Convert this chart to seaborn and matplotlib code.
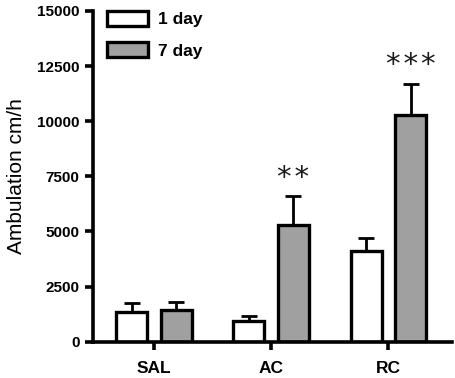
import pandas as pd
import matplotlib
matplotlib.use("Agg")
import matplotlib.pyplot as plt
import matplotlib.patches as mpatches
import seaborn as sns

# Chart data
groups = ["SAL", "AC", "RC"]
days = ["1 day", "7 day"]
means_1day = [1350, 950, 4100]
means_7day = [1450, 5300, 10300]
sem_1day = [400, 200, 600]
sem_7day = [350, 1300, 1400]
sig_labels_7day = ["", "*\u200a*", "*\u200a*\u200a*"]

df = pd.DataFrame({
    "group": groups * 2,
    "day": [days[0]] * 3 + [days[1]] * 3,
    "mean": means_1day + means_7day,
    "sem": sem_1day + sem_7day,
})

sns.set_style("ticks")
plt.rcParams["font.family"] = ["Liberation Sans", "DejaVu Sans"]
plt.rcParams["text.color"] = "black"
plt.rcParams["axes.labelcolor"] = "black"
plt.rcParams["xtick.color"] = "black"
plt.rcParams["ytick.color"] = "black"
plt.rcParams["axes.edgecolor"] = "black"

fig = plt.figure(figsize=(4.55, 3.78), dpi=100)
ax = fig.add_axes([0.204, 0.096, 0.789, 0.875])

colors = ["white", "#a0a0a0"]
sns.barplot(data=df, x="group", y="mean", hue="day", order=groups, hue_order=days,
            palette=colors, edgecolor="black", linewidth=2.4, width=0.76, gap=0.3,
            errorbar=None, legend=False, ax=ax)

# upper-only error bars, placed on the drawn bars
bars = [p for p in ax.patches if p.get_height() > 0]
for bar, m, s in zip(bars, df["mean"], df["sem"]):
    cx = bar.get_x() + bar.get_width() / 2
    ax.errorbar(cx, m, yerr=[[0], [s]], fmt="none", ecolor="black",
                elinewidth=2.0, capsize=5.5, capthick=2.0, zorder=1)

# significance stars above 7 day bars
for bar, m, s, lab in zip(bars[3:], means_7day, sem_7day, sig_labels_7day):
    if lab:
        cx = bar.get_x() + bar.get_width() / 2
        ax.text(cx, m + s + 200, lab, ha="center", va="bottom",
                fontsize=21, family="DejaVu Sans", color="#1a1a1a")

ax.set_ylim(0, 15000)
ax.set_xlim(-0.52, 2.54)
ax.set_yticks([0, 2500, 5000, 7500, 10000, 12500, 15000])
ax.set_xlabel("")
ax.set_ylabel("Ambulation cm/h", fontsize=15, labelpad=8)

sns.despine(ax=ax)
for side in ["left", "bottom"]:
    ax.spines[side].set_linewidth(2.6)
ax.tick_params(axis="both", width=2.6, length=6, direction="out")
ax.tick_params(axis="y", labelsize=11)
ax.tick_params(axis="x", labelsize=12.5, pad=8)
for t in ax.get_xticklabels() + ax.get_yticklabels():
    t.set_fontweight("bold")

handles = [mpatches.Patch(facecolor=c, edgecolor="black", linewidth=2.4, label=d)
           for c, d in zip(colors, days)]
ax.legend(handles=handles, loc="upper left", bbox_to_anchor=(0.04, 1.0),
          frameon=False, borderpad=0, borderaxespad=0, handlelength=2.35,
          handleheight=0.95, labelspacing=0.85, handletextpad=0.55,
          prop={"weight": "bold", "size": 12.5})

fig.savefig("out.png", dpi=100)
